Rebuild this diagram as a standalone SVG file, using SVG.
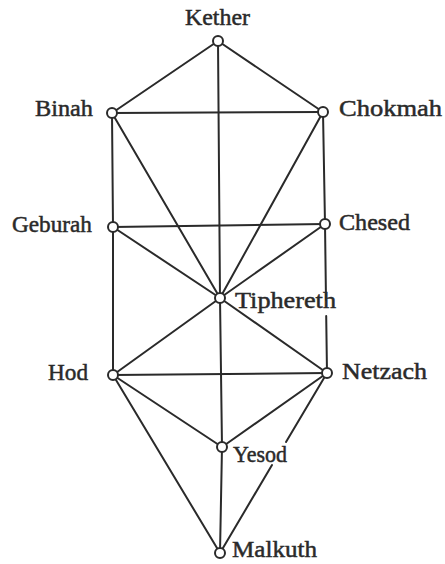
<svg xmlns="http://www.w3.org/2000/svg" width="445" height="564" viewBox="0 0 445 564">
<style>
.edge{stroke:#2a2a2a;stroke-width:2;stroke-linecap:round;fill:none}
.node circle{fill:#fff;stroke:#2a2a2a;stroke-width:2}
.node text{font-family:"Liberation Serif","Times New Roman",serif;font-size:24px;fill:#2a2a2a;stroke:#2a2a2a;stroke-width:0.5}
</style>
<rect width="445" height="564" fill="#fff"/>
<g id="connectors">
<line class="edge" x1="218" y1="41" x2="112" y2="113"/>
<line class="edge" x1="218" y1="41" x2="323" y2="112"/>
<line class="edge" x1="218" y1="41" x2="220" y2="298"/>
<line class="edge" x1="112" y1="113" x2="323" y2="112"/>
<line class="edge" x1="112" y1="113" x2="113" y2="227"/>
<line class="edge" x1="112" y1="113" x2="220" y2="298"/>
<line class="edge" x1="323" y1="112" x2="325" y2="224"/>
<line class="edge" x1="323" y1="112" x2="220" y2="298"/>
<line class="edge" x1="113" y1="227" x2="325" y2="224"/>
<line class="edge" x1="113" y1="227" x2="220" y2="298"/>
<line class="edge" x1="325" y1="224" x2="220" y2="298"/>
<line class="edge" x1="113" y1="227" x2="113" y2="375"/>
<line class="edge" x1="325" y1="224" x2="326" y2="300"/>
<line class="edge" x1="326.2" y1="316" x2="327" y2="373"/>
<line class="edge" x1="220" y1="298" x2="113" y2="375"/>
<line class="edge" x1="220" y1="298" x2="327" y2="373"/>
<line class="edge" x1="220" y1="298" x2="222" y2="447"/>
<line class="edge" x1="113" y1="375" x2="327" y2="373"/>
<line class="edge" x1="113" y1="375" x2="222" y2="447"/>
<line class="edge" x1="327" y1="373" x2="222" y2="447"/>
<line class="edge" x1="113" y1="375" x2="220" y2="553"/>
<line class="edge" x1="327" y1="373" x2="286" y2="442"/>
<line class="edge" x1="272" y1="465" x2="220" y2="553"/>
<line class="edge" x1="222" y1="447" x2="220" y2="553"/>
</g>
<g id="kether" class="node"><circle cx="218" cy="41" r="5"/><text x="185" y="25" textLength="65" lengthAdjust="spacingAndGlyphs">Kether</text></g>
<g id="binah" class="node"><circle cx="112" cy="113" r="5"/><text x="35" y="116" textLength="58" lengthAdjust="spacingAndGlyphs">Binah</text></g>
<g id="chokmah" class="node"><circle cx="323" cy="112" r="5"/><text x="339" y="116" textLength="103" lengthAdjust="spacingAndGlyphs">Chokmah</text></g>
<g id="geburah" class="node"><circle cx="113" cy="227" r="5"/><text x="12" y="232" textLength="80" lengthAdjust="spacingAndGlyphs">Geburah</text></g>
<g id="chesed" class="node"><circle cx="325" cy="224" r="5"/><text x="339" y="230" textLength="71" lengthAdjust="spacingAndGlyphs">Chesed</text></g>
<g id="tiphereth" class="node"><circle cx="220" cy="298" r="5"/><text x="235" y="308" textLength="101" lengthAdjust="spacingAndGlyphs">Tiphereth</text></g>
<g id="hod" class="node"><circle cx="113" cy="375" r="5"/><text x="48" y="380" textLength="40" lengthAdjust="spacingAndGlyphs">Hod</text></g>
<g id="netzach" class="node"><circle cx="327" cy="373" r="5"/><text x="342" y="379" textLength="85" lengthAdjust="spacingAndGlyphs">Netzach</text></g>
<g id="yesod" class="node"><circle cx="222" cy="447" r="5"/><text x="233" y="462" textLength="54" lengthAdjust="spacingAndGlyphs">Yesod</text></g>
<g id="malkuth" class="node"><circle cx="220" cy="553" r="5"/><text x="232" y="557" textLength="85" lengthAdjust="spacingAndGlyphs">Malkuth</text></g>
</svg>
